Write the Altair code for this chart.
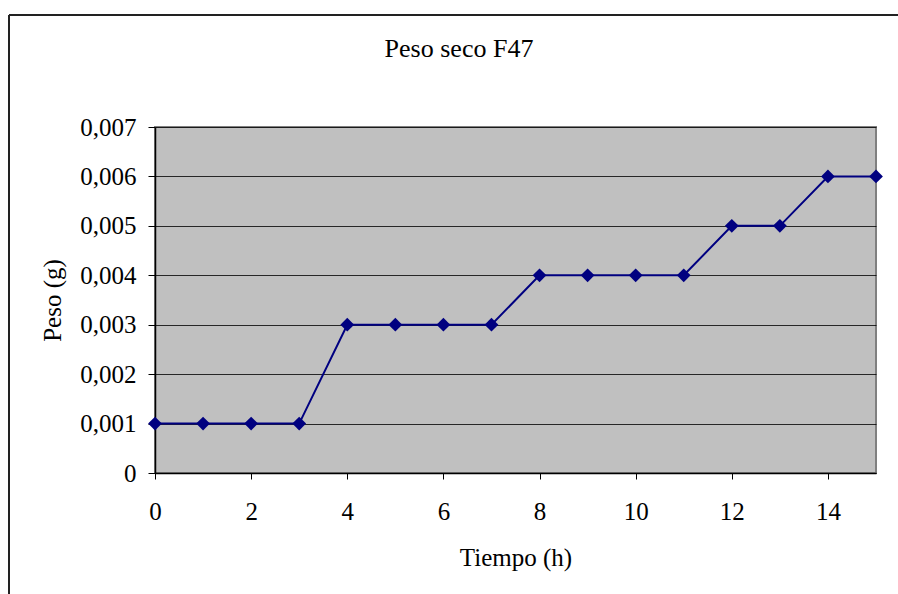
import altair as alt
import pandas as pd

tiempo = list(range(16))
peso = [0.001, 0.001, 0.001, 0.001, 0.003, 0.003, 0.003, 0.003,
        0.004, 0.004, 0.004, 0.004, 0.005, 0.005, 0.006, 0.006]
x_ticks = [0, 2, 4, 6, 8, 10, 12, 14]
y_ticks = [0, 0.001, 0.002, 0.003, 0.004, 0.005, 0.006, 0.007]
titulo = ["Peso seco F47"]

df = pd.DataFrame({"Tiempo": tiempo, "Peso": peso})

FONT = "Liberation Serif"
NAVY = "#000080"

x_enc = alt.X("Tiempo:Q", scale=alt.Scale(domain=[0, 15], nice=False, zero=False),
              axis=alt.Axis(values=x_ticks, title="Tiempo (h)", grid=False,
                            domainColor="black", domainWidth=1.5,
                            tickColor="black", tickSize=6, tickWidth=1,
                            labelFont=FONT, labelFontSize=25, labelColor="black",
                            labelBaseline="middle", labelPadding=32,
                            labelFlush=False, labelOverlap=False,
                            titleFont=FONT, titleFontSize=25, titleFontWeight="normal",
                            titleColor="black", titleBaseline="middle", titleY=84))
y_enc = alt.Y("Peso:Q", scale=alt.Scale(domain=[0, 0.007], nice=False),
              axis=alt.Axis(values=y_ticks, title="Peso (g)", grid=True,
                            gridColor="black", gridWidth=1, gridOpacity=0.8,
                            domainColor="black", domainWidth=1.5,
                            tickColor="black", tickSize=7, tickWidth=1,
                            labelExpr="datum.value == 0 ? '0' : replace(format(datum.value, '.3f'), '.', ',')",
                            labelFont=FONT, labelFontSize=25, labelColor="black",
                            labelPadding=12, labelFlush=False,
                            titleFont=FONT, titleFontSize=25, titleFontWeight="normal",
                            titleColor="black", titleBaseline="middle", titleX=-103,
                            titleAngle=-90))

base = alt.Chart(df)
line = base.mark_line(color=NAVY, strokeWidth=2).encode(x=x_enc, y=y_enc)
pts = base.mark_point(shape="diamond", filled=True, color=NAVY, size=190, opacity=1).encode(x="Tiempo:Q", y="Peso:Q")

one = pd.DataFrame({"t": titulo})
title_txt = alt.Chart(one).mark_text(font=FONT, fontSize=26, color="black",
                                     align="center", baseline="middle").encode(
    text="t:N", x=alt.value(304), y=alt.value(-78))

frame_top = alt.Chart(one).mark_rule(color="#222222", strokeWidth=2).encode(
    x=alt.value(-146), x2=alt.value(760), y=alt.value(-112))
frame_left = alt.Chart(one).mark_rule(color="#222222", strokeWidth=2).encode(
    x=alt.value(-146), y=alt.value(-112), y2=alt.value(480))

chart = alt.layer(line, pts, title_txt, frame_top, frame_left).properties(
    width=721, height=346,
    autosize=alt.AutoSizeParams(type="none"),
    padding={"left": 155, "top": 127, "right": 22, "bottom": 121},
).configure(
    background="white",
    view=alt.ViewConfig(fill="#C0C0C0", stroke="#808080", strokeWidth=2),
)

chart.save("out.html", embed_options={"renderer": "svg", "actions": False})
